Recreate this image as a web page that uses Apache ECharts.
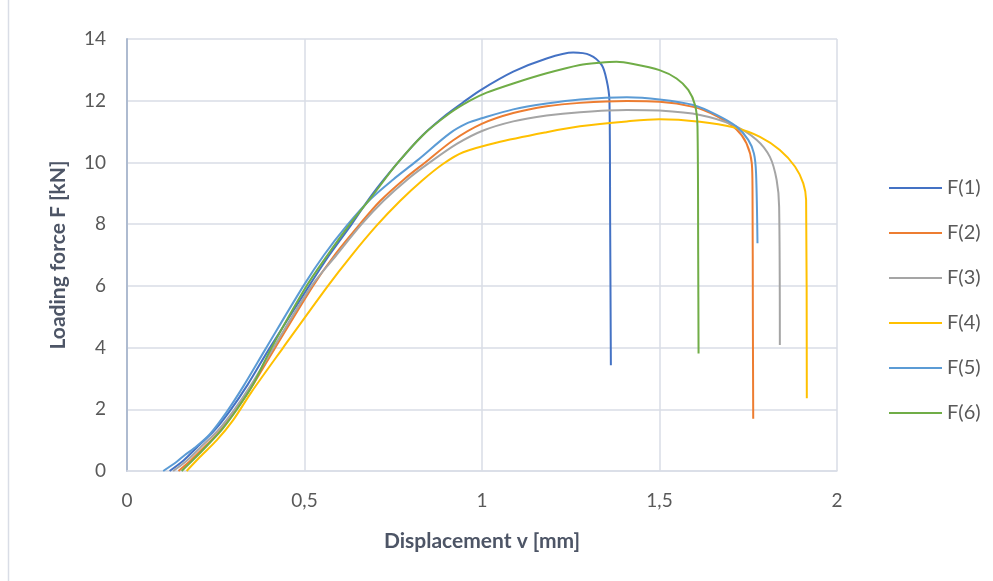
<!DOCTYPE html>
<html>
<head>
<meta charset="utf-8">
<script src="https://cdn.jsdelivr.net/npm/echarts@6/dist/echarts.min.js"></script>
<style>
  html, body { margin: 0; padding: 0; background: #fff; }
  #chart { width: 993px; height: 581px; }
</style>
</head>
<body>
<div id="chart"></div>
<script>
// displacement v [mm], loading force F [kN] pairs
var seriesNames = ['F(1)', 'F(2)', 'F(3)', 'F(4)', 'F(5)', 'F(6)'];
var seriesColors = ['#4472C4', '#ED7D31', '#A5A5A5', '#FFC000', '#5B9BD5', '#70AD47'];

var f1 = [[0.12,0],[0.16,0.35],[0.2,0.8],[0.245,1.3],[0.29,1.95],[0.34,2.8],[0.4,3.95],[0.513,6],
  [0.57,7],[0.633,8],[0.69,8.95],[0.76,9.95],[0.83,10.85],[0.9,11.55],[0.947,11.95],[0.994,12.33],
  [1.088,12.94],[1.182,13.37],[1.257,13.56],[1.304,13.48],[1.337,13.16],[1.351,12.67],[1.359,12],
  [1.361,8],[1.363,3.43]];

var f2 = [[0.145,0],[0.18,0.35],[0.22,0.8],[0.262,1.3],[0.305,1.95],[0.355,2.8],[0.415,3.95],[0.524,6],
  [0.585,7],[0.656,8],[0.713,8.75],[0.78,9.45],[0.84,10],[0.919,10.72],[0.999,11.25],[1.088,11.6],
  [1.182,11.82],[1.276,11.93],[1.408,11.99],[1.5,11.97],[1.595,11.8],[1.661,11.5],[1.717,11.07],
  [1.745,10.62],[1.76,9.97],[1.762,9.1],[1.763,5],[1.764,1.69]];

var f3 = [[0.13,0],[0.17,0.35],[0.21,0.8],[0.255,1.3],[0.3,1.95],[0.35,2.8],[0.41,3.95],[0.52,6],
  [0.59,7],[0.661,8],[0.722,8.75],[0.79,9.45],[0.853,10],[0.929,10.6],[1.0,11.02],[1.088,11.33],
  [1.182,11.52],[1.276,11.63],[1.408,11.7],[1.5,11.68],[1.614,11.54],[1.708,11.21],[1.774,10.73],
  [1.811,10.18],[1.83,9.43],[1.837,8.56],[1.839,4.08]];

var f4 = [[0.168,0],[0.206,0.46],[0.253,1.0],[0.299,1.65],[0.35,2.55],[0.44,4],[0.566,6],[0.63,6.95],
  [0.703,7.95],[0.769,8.75],[0.83,9.4],[0.89,9.95],[0.947,10.33],[1.04,10.64],[1.182,10.98],
  [1.276,11.17],[1.408,11.33],[1.5,11.4],[1.614,11.32],[1.708,11.14],[1.783,10.83],[1.839,10.4],
  [1.882,9.86],[1.905,9.32],[1.913,8.78],[1.915,2.36]];

var f5 = [[0.102,0],[0.14,0.3],[0.163,0.52],[0.196,0.8],[0.234,1.2],[0.28,1.9],[0.328,2.75],[0.39,3.95],
  [0.497,6],[0.555,7],[0.619,7.95],[0.685,8.8],[0.75,9.45],[0.816,10.05],[0.91,10.95],[0.96,11.28],
  [0.999,11.43],[1.088,11.72],[1.182,11.91],[1.276,12.04],[1.408,12.11],[1.5,12.04],[1.595,11.86],
  [1.661,11.54],[1.717,11.16],[1.75,10.73],[1.766,10.29],[1.772,9.65],[1.776,7.38]];

var f6 = [[0.154,0],[0.19,0.4],[0.228,0.85],[0.268,1.35],[0.31,2],[0.355,2.8],[0.405,3.95],[0.506,6],
  [0.565,7],[0.628,8],[0.69,8.9],[0.76,9.95],[0.835,10.9],[0.91,11.6],[0.966,12.0],[1.013,12.26],
  [1.088,12.56],[1.182,12.89],[1.276,13.16],[1.332,13.23],[1.379,13.26],[1.426,13.19],[1.5,12.99],
  [1.548,12.72],[1.581,12.35],[1.6,11.86],[1.607,11.16],[1.609,7],[1.61,3.81]];

var seriesData = [f1, f2, f3, f4, f5, f6];

var textColor = '#595959';
var titleColor = '#4d5566';
var gridColor = '#d9dde6';
var fontFamily = 'Lato, "Liberation Sans", sans-serif';

var chart = echarts.init(document.getElementById('chart'));

var series = seriesData.map(function (d, i) {
  return {
    name: seriesNames[i],
    type: 'line',
    data: d,
    symbol: 'none',
    smooth: 0.3,
    lineStyle: { color: seriesColors[i], width: 2 },
    itemStyle: { color: seriesColors[i] },
    z: 2 + i
  };
});

var option = {
  animation: false,
  backgroundColor: '#fff',
  textStyle: { fontFamily: fontFamily },
  grid: { left: 127, right: 156, top: 39, bottom: 110 },
  legend: {
    orient: 'vertical',
    left: 884,
    top: 173,
    data: seriesNames,
    itemWidth: 53,
    itemHeight: 14,
    itemGap: 25,
    icon: 'path://M0,6 L53,6 L53,8 L0,8 Z',
    textStyle: { color: textColor, fontSize: 20, fontFamily: fontFamily }
  },
  xAxis: {
    type: 'value',
    min: 0,
    max: 2,
    interval: 0.5,
    name: 'Displacement v [mm]',
    nameLocation: 'middle',
    nameGap: 60,
    nameTextStyle: { color: titleColor, fontSize: 21, fontWeight: 'bold', fontFamily: fontFamily },
    axisLine: { show: true, lineStyle: { color: gridColor, width: 1.5 } },
    axisTick: { show: false },
    splitLine: { show: true, lineStyle: { color: gridColor, width: 1.5 } },
    axisLabel: {
      color: textColor,
      fontSize: 19,
      margin: 20,
      formatter: function (v) { return String(v).replace('.', ','); }
    }
  },
  yAxis: {
    type: 'value',
    min: 0,
    max: 14,
    interval: 2,
    name: 'Loading force F [kN]',
    nameLocation: 'middle',
    nameGap: 58,
    nameTextStyle: { color: titleColor, fontSize: 21, fontWeight: 'bold', fontFamily: fontFamily },
    axisLine: { show: true, lineStyle: { color: '#aebbd0', width: 2 } },
    axisTick: { show: false },
    splitLine: { show: true, lineStyle: { color: gridColor, width: 1.5 } },
    axisLabel: { color: textColor, fontSize: 19, margin: 21 }
  },
  graphic: [
    {
      type: 'line',
      shape: { x1: 8.5, y1: 0, x2: 8.5, y2: 581 },
      style: { stroke: '#d9dde6', lineWidth: 1.5 }
    }
  ],
  series: series
};

chart.setOption(option);
</script>
</body>
</html>
